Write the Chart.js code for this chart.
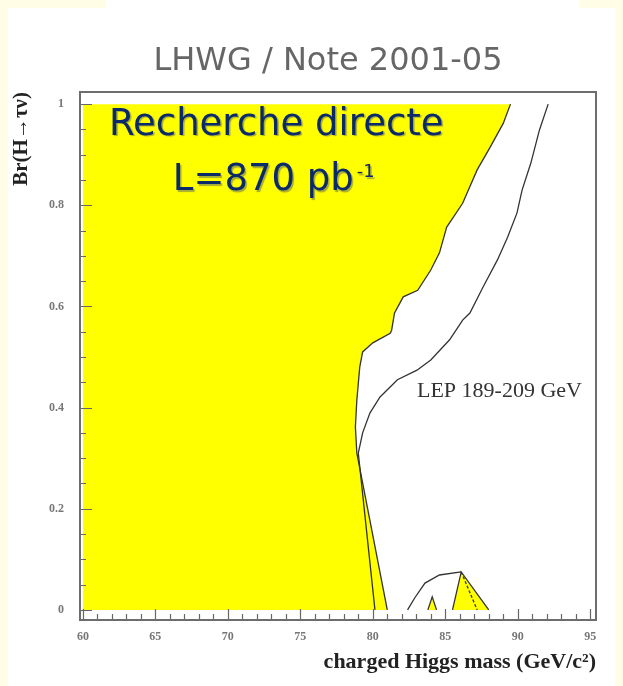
<!DOCTYPE html>
<html>
<head>
<meta charset="utf-8">
<title>Br(H→τν) vs charged Higgs mass</title>
<script src="https://cdn.jsdelivr.net/npm/chart.js@4.4.1/dist/chart.umd.min.js"></script>
<style>
  html, body { margin: 0; padding: 0; background: #fffde6; overflow: hidden; }
  #sheet { position: absolute; left: 8px; top: 8px; width: 607px; height: 678px; background: #fff; }
  #sheetTop { position: absolute; left: 106px; top: 0; width: 474px; height: 8px; background: #fff; }
  #wrap { position: absolute; left: 0; top: 0; width: 623px; height: 686px; }
</style>
</head>
<body>
<div id="sheet"></div>
<div id="sheetTop"></div>
<div id="wrap"><canvas id="myChart" width="623" height="686"></canvas></div>
<script>
(() => {
  'use strict'

  // axis labels
  const massTicks = [60, 65, 70, 75, 80, 85, 90, 95]
  const brTicks = [0, 0.2, 0.4, 0.6, 0.8, 1]

  // edge of the excluded (yellow) region, from Br = 1 down to Br = 0
  const obsMass = [89.5, 89.0, 88.1, 87.2, 86.2, 85.1, 84.6, 84.0, 83.1, 82.1, 81.5, 81.3, 81.2, 80.0, 79.3, 79.1, 78.9, 78.8, 78.9, 81.0]
  const obsBr = [1.0, 0.962, 0.915, 0.870, 0.804, 0.757, 0.706, 0.672, 0.632, 0.619, 0.587, 0.553, 0.547, 0.528, 0.510, 0.480, 0.415, 0.362, 0.310, 0.0]

  // the other contour (LEP 189-209 GeV)
  const expMass = [92.1, 91.5, 90.9, 90.3, 89.95, 89.3, 88.6, 87.6, 86.7, 86.2, 85.3, 84.0, 83.05, 81.7, 80.5, 79.8, 79.3, 79.0, 80.15]
  const expBr = [1.0, 0.949, 0.883, 0.830, 0.785, 0.737, 0.692, 0.638, 0.587, 0.573, 0.534, 0.494, 0.474, 0.455, 0.421, 0.389, 0.350, 0.310, 0.0]

  // small islands close to Br = 0
  const arcMass = [82.4, 82.9, 83.6, 84.6, 86.1]
  const arcBr = [0, 0.024, 0.053, 0.069, 0.075]
  const islandMass = [85.5, 86.1, 88.0]
  const islandBr = [0, 0.075, 0]
  const innerMass = [86.1, 87.2]
  const innerBr = [0.075, 0]
  const spikeMass = [83.8, 84.1, 84.4]
  const spikeBr = [0, 0.026, 0]

  const pts = (xs, ys) => xs.map((x, i) => ({ x: x, y: ys[i] }))

  // yellow area closed along m = 60 and Br = 1
  const excluded = [{ x: 60, y: 0 }, { x: 60, y: 1 }].concat(pts(obsMass, obsBr))

  const lineColor = '#333'
  const yellow = '#ffff00'

  const curve = (data, extra) => Object.assign({
    data: data,
    borderColor: lineColor,
    borderWidth: 1.3,
    backgroundColor: 'transparent',
    pointRadius: 0,
    tension: 0,
    fill: false
  }, extra || {})

  // ticks pointing into the frame, plus the frame itself
  const frameTicks = {
    id: 'frameTicks',
    afterDatasetsDraw(chart) {
      const { ctx, chartArea: a, scales: { x, y } } = chart
      ctx.save()
      ctx.strokeStyle = '#666'
      ctx.lineWidth = 1.2
      ctx.beginPath()
      for (let m = 60; m <= 95; m++) {
        const px = Math.round(x.getPixelForValue(m)) + 0.5
        const len = m % 5 === 0 ? 11 : 6
        ctx.moveTo(px, a.bottom)
        ctx.lineTo(px, a.bottom - len)
      }
      for (let k = 0; k <= 20; k++) {
        const py = Math.round(y.getPixelForValue(k * 0.05)) + 0.5
        const len = k % 4 === 0 ? 12 : 6
        ctx.moveTo(a.left, py)
        ctx.lineTo(a.left + len, py)
      }
      ctx.stroke()
      ctx.lineWidth = 2
      ctx.strokeStyle = '#6d6d6d'
      ctx.strokeRect(a.left, a.top, a.right - a.left, a.bottom - a.top)
      ctx.restore()
    }
  }

  // header and text inside the plot
  const labels = {
    id: 'labels',
    afterDraw(chart) {
      const { ctx, scales: { x, y } } = chart
      ctx.save()
      ctx.textBaseline = 'alphabetic'
      ctx.textAlign = 'center'
      ctx.font = '32px "DejaVu Sans"'
      ctx.fillStyle = '#666'
      ctx.fillText('LHWG / Note 2001-05', 328, 70)

      ctx.textAlign = 'left'
      ctx.shadowColor = 'rgba(60, 70, 110, 0.45)'
      ctx.shadowOffsetX = 1.5
      ctx.shadowOffsetY = 1.5
      ctx.shadowBlur = 1
      ctx.fillStyle = '#0b2a6a'
      ctx.font = '37px "DejaVu Sans"'
      ctx.fillText('Recherche directe', x.getPixelForValue(61.8), y.getPixelForValue(0.939))
      const lx = x.getPixelForValue(66.2)
      const ly = y.getPixelForValue(0.830)
      ctx.fillText('L=870 pb', lx, ly)
      const w = ctx.measureText('L=870 pb').width
      ctx.font = '18px "DejaVu Sans"'
      ctx.fillText('-1', lx + w + 3, ly - 13)

      ctx.shadowColor = 'transparent'
      ctx.fillStyle = '#333'
      ctx.font = '22px "Liberation Serif"'
      ctx.fillText('LEP 189-209 GeV', x.getPixelForValue(83.05), y.getPixelForValue(0.421))
      ctx.restore()
    }
  }

  const tickFont = { family: '"Liberation Serif"', size: 12, weight: 'bold' }

  const ctx = document.getElementById('myChart')
  // eslint-disable-next-line no-unused-vars
  const myChart = new Chart(ctx, {
    type: 'line',
    data: {
      datasets: [
        curve(pts(expMass, expBr)),
        curve(pts(obsMass, obsBr)),
        curve(pts(innerMass, innerBr), { borderDash: [3, 2] }),
        curve(pts(arcMass, arcBr)),
        curve(pts(spikeMass, spikeBr), { backgroundColor: yellow, fill: 'shape' }),
        curve(pts(islandMass, islandBr), { backgroundColor: yellow, fill: 'shape' }),
        curve(excluded, { borderWidth: 0, backgroundColor: yellow, fill: 'shape' })
      ]
    },
    options: {
      responsive: false,
      animation: false,
      events: [],
      layout: { padding: { top: 92, right: 27, bottom: 0, left: 0 } },
      plugins: {
        legend: { display: false },
        tooltip: { enabled: false }
      },
      scales: {
        x: {
          type: 'linear',
          min: 59.8,
          max: 95.4,
          afterFit: (s) => { s.height = 66 },
          afterBuildTicks: (s) => { s.ticks = massTicks.map(v => ({ value: v })) },
          grid: { display: false, drawTicks: false },
          border: { display: false },
          ticks: {
            padding: 10,
            font: tickFont,
            color: '#777',
            maxRotation: 0,
            autoSkip: false,
            callback: (v) => String(v)
          },
          title: {
            display: true,
            text: 'charged Higgs mass (GeV/c²)',
            align: 'end',
            color: '#222',
            font: { family: '"Liberation Serif"', size: 22, weight: 'bold' },
            padding: { top: 0, bottom: 10 }
          }
        },
        y: {
          type: 'linear',
          min: -0.02,
          max: 1.024,
          afterFit: (s) => { s.width = 80 },
          afterBuildTicks: (s) => { s.ticks = brTicks.map(v => ({ value: v })) },
          grid: { display: false, drawTicks: false },
          border: { display: false },
          ticks: {
            padding: 16,
            font: tickFont,
            color: '#777',
            autoSkip: false,
            callback: (v) => String(v)
          },
          title: {
            display: true,
            text: 'Br(H→τν)',
            align: 'end',
            color: '#222',
            font: { family: '"Liberation Serif"', size: 21, weight: 'bold' },
            padding: { top: 9, bottom: 0 }
          }
        }
      }
    },
    plugins: [frameTicks, labels]
  })
})()
</script>
</body>
</html>
